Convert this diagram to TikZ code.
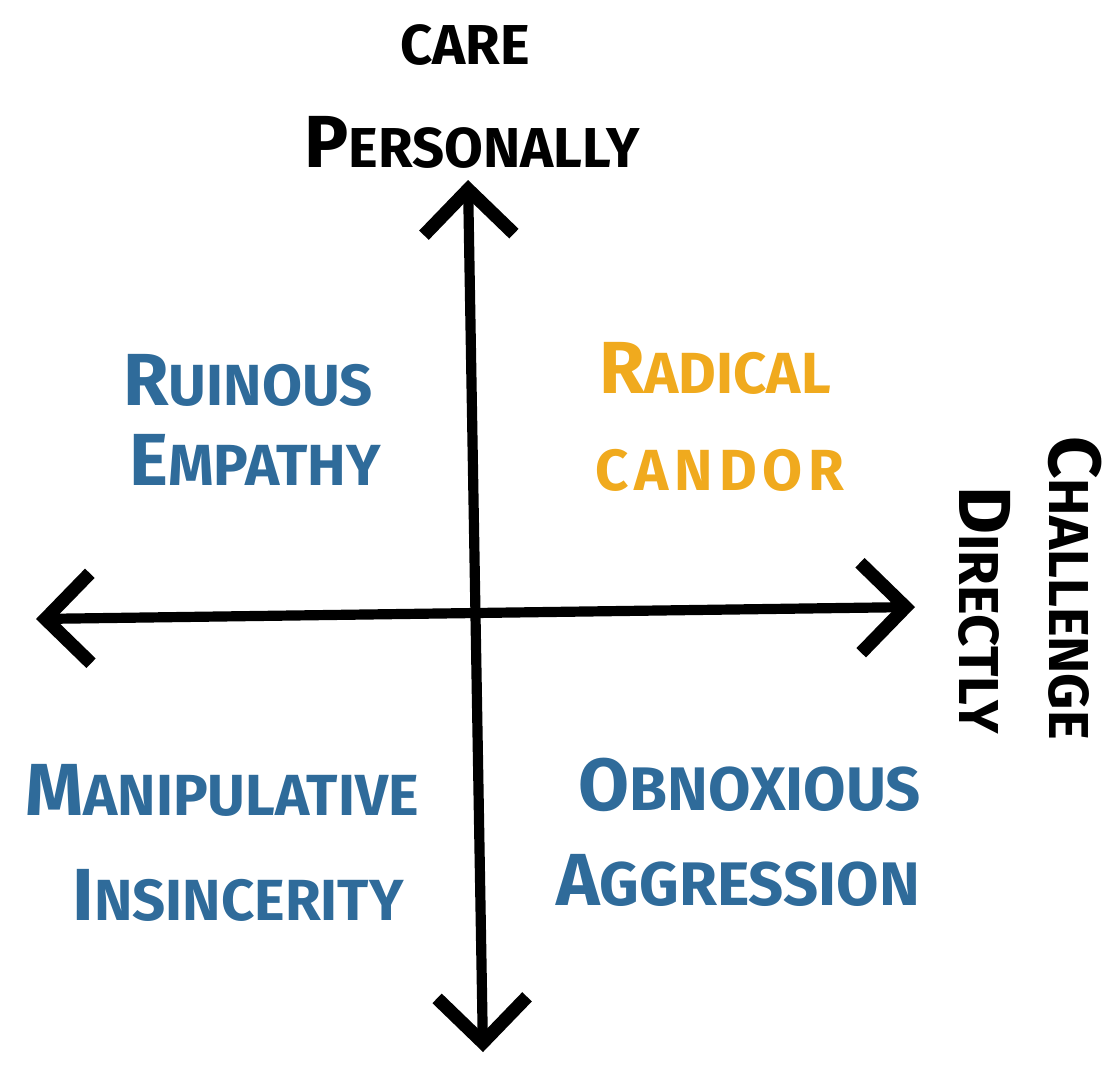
\documentclass[tikz,border=0pt]{standalone}
\usepackage{fontspec}
\setmainfont{Fira Sans}
\usetikzlibrary{arrows.meta,positioning}

\definecolor{ruinblue}{HTML}{2F6B9A}
\definecolor{candorgold}{HTML}{F0AA1E}

\newcommand{\bigfirst}[1]{{\fontsize{21}{21}\selectfont #1}}

\begin{document}
\begin{tikzpicture}[>={Straight Barb[length=4.5mm,width=9mm,line width=3.8pt]}, line cap=round, line join=round,
  axis/.style={line width=2.9pt},
  axlabel/.style={font=\fontsize{16}{16}\selectfont\bfseries, text=black, inner sep=0pt},
  quad/.style={font=\fontsize{16.5}{16.5}\selectfont\bfseries, text=ruinblue, inner sep=0pt},
  good/.style={quad, text=candorgold}]

\useasboundingbox (0,0) rectangle (11.12,10.64);

% axis ends
\coordinate (top)    at (4.68,8.84);
\coordinate (bottom) at (4.83,0.12);
\coordinate (left)   at (0.36,4.45);
\coordinate (right)  at (9.15,4.57);

\draw[axis,<->] (bottom) -- (top);
\draw[axis,<->] (left) -- (right);

% axis labels
\node[axlabel] (care)  at (4.65,10.19) {CARE};
\node[axlabel] (pers)  [below=0.5cm of care, xshift=0.07cm] {\bigfirst{P}ERSONALLY};
\node[axlabel, rotate=-90] (chall) at (10.75,4.76) {\bigfirst{C}HALLENGE};
\node[axlabel, rotate=-90] (direct) at (9.85,4.54) {\bigfirst{D}IRECTLY};

% quadrants
\node[quad] (ruin)  at (2.48,6.84) {\bigfirst{R}UINOUS};
\node[quad] (emp)   at (2.55,6.04) {\bigfirst{E}MPATHY};
\node[good] (rad)   at (7.15,6.96) {\bigfirst{R}ADICAL};
\node[good] (cand)  at (7.20,5.94) {\addfontfeature{LetterSpace=10}CANDOR};
\node[quad] (manip) at (2.22,2.74) {\bigfirst{M}ANIPULATIVE};
\node[quad] (insin) at (2.38,1.69) {\bigfirst{I}NSINCERITY};
\node[quad, font=\fontsize{17.5}{17.5}\selectfont\bfseries] (obnox) at (7.50,2.79) {\bigfirst{O}BNOXIOUS};
\node[quad, font=\fontsize{17.5}{17.5}\selectfont\bfseries] (aggr)  at (7.38,1.84) {\bigfirst{A}GGRESSION};
\end{tikzpicture}
\end{document}
